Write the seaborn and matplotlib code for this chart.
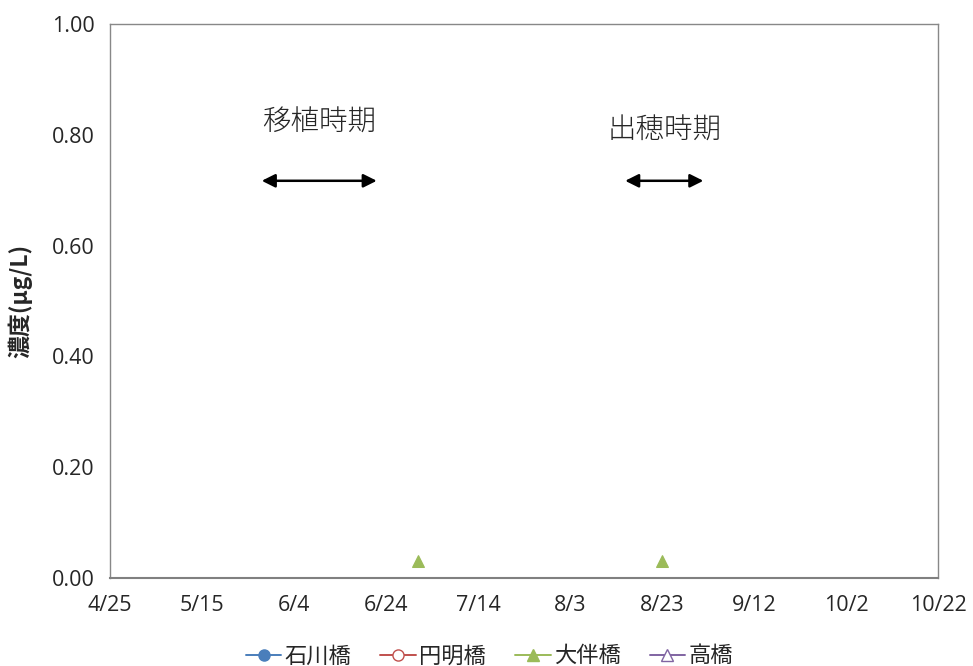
import matplotlib
matplotlib.use("Agg")
import matplotlib.pyplot as plt
import matplotlib.dates as mdates
from matplotlib.lines import Line2D
import seaborn as sns
import pandas as pd

# Sampling dates and measured concentrations (µg/L) per station
dates = ["2019-07-01", "2019-08-23"]
ishikawa = [None, None]
enmyo = [None, None]
otomo = [0.03, 0.03]
takahashi = [None, None]

stations = ["石川橋", "円明橋", "大伴橋", "高橋"]
colors = ["#4a7ebb", "#c0504d", "#9bbb59", "#8064a2"]
markers = ["o", "o", "^", "^"]
filled = [True, False, True, False]

# Periods of rice transplanting and heading
periods = [("移植時期", "2019-05-28", "2019-06-22"), ("出穂時期", "2019-08-15", "2019-09-01")]

xtick_dates = pd.date_range("2019-04-25", "2019-10-22", freq="20D")
ytick_vals = [0.0, 0.2, 0.4, 0.6, 0.8, 1.0]

sns.set_theme(style="white")
plt.rcParams["font.family"] = ["Open Sans", "Noto Sans CJK JP", "DejaVu Sans"]
cjk = ["Noto Sans CJK JP", "DejaVu Sans"]

df = pd.DataFrame({"date": pd.to_datetime(dates), "石川橋": ishikawa, "円明橋": enmyo,
                   "大伴橋": otomo, "高橋": takahashi})
long = df.melt(id_vars="date", var_name="station", value_name="conc").dropna()

fig = plt.figure(figsize=(9.73, 6.66), dpi=100)
ax = fig.add_axes([0.113, 0.132, 0.851, 0.832])

for name, col, mk, fl in zip(stations, colors, markers, filled):
    sub = long[long["station"] == name]
    if sub.empty:
        continue
    sns.lineplot(data=sub, x="date", y="conc", ax=ax, color=col, marker=mk, markersize=9,
                 markerfacecolor=col if fl else "white", markeredgecolor=col,
                 linestyle="none", legend=False)

ax.set_xlim(xtick_dates[0], xtick_dates[-1])
ax.set_ylim(0, 1.0)
ax.set_xticks(xtick_dates)
ax.set_xticklabels([f"{d.month}/{d.day}" for d in xtick_dates])
ax.set_yticks(ytick_vals)
ax.set_yticklabels([f"{v:.2f}" for v in ytick_vals])
ax.tick_params(axis="y", labelsize=15.5, length=0, pad=11)
ax.tick_params(axis="x", labelsize=15.5, length=0, pad=12)
ax.set_xlabel("")
ax.set_ylabel("濃度(μg/L)", fontsize=16.5, fontweight="bold", family=cjk)
ax.yaxis.set_label_coords(-0.094, 0.5)
for sp in ax.spines.values():
    sp.set_color("#888888")
    sp.set_linewidth(1.0)
ax.spines["bottom"].set_color("#808080")
ax.spines["bottom"].set_linewidth(1.5)

text_y = [0.823, 0.808]
for (label, s, e), ty in zip(periods, text_y):
    s, e = pd.Timestamp(s), pd.Timestamp(e)
    ax.annotate("", xy=(mdates.date2num(e), 0.717), xytext=(mdates.date2num(s), 0.717),
                arrowprops=dict(arrowstyle="<|-|>", color="black", lw=1.8,
                                mutation_scale=20, shrinkA=0, shrinkB=0))
    mid = s + (e - s) / 2
    ax.text(mdates.date2num(mid), ty, label, ha="center", va="center", fontsize=20.5,
            family=cjk, fontweight="light")

handles = []
for name, col, mk, fl in zip(stations, colors, markers, filled):
    handles.append(Line2D([0], [0], color=col, marker=mk, markersize=8, lw=1.4,
                          markerfacecolor=col if fl else "white", markeredgecolor=col,
                          label=name))
fig.legend(handles=handles, loc="lower center", bbox_to_anchor=(0.503, -0.032), ncol=4,
           frameon=False, handlelength=1.6, handletextpad=0.15, columnspacing=1.3,
           prop={"family": cjk, "size": 16})

fig.savefig("out.png", dpi=100)
